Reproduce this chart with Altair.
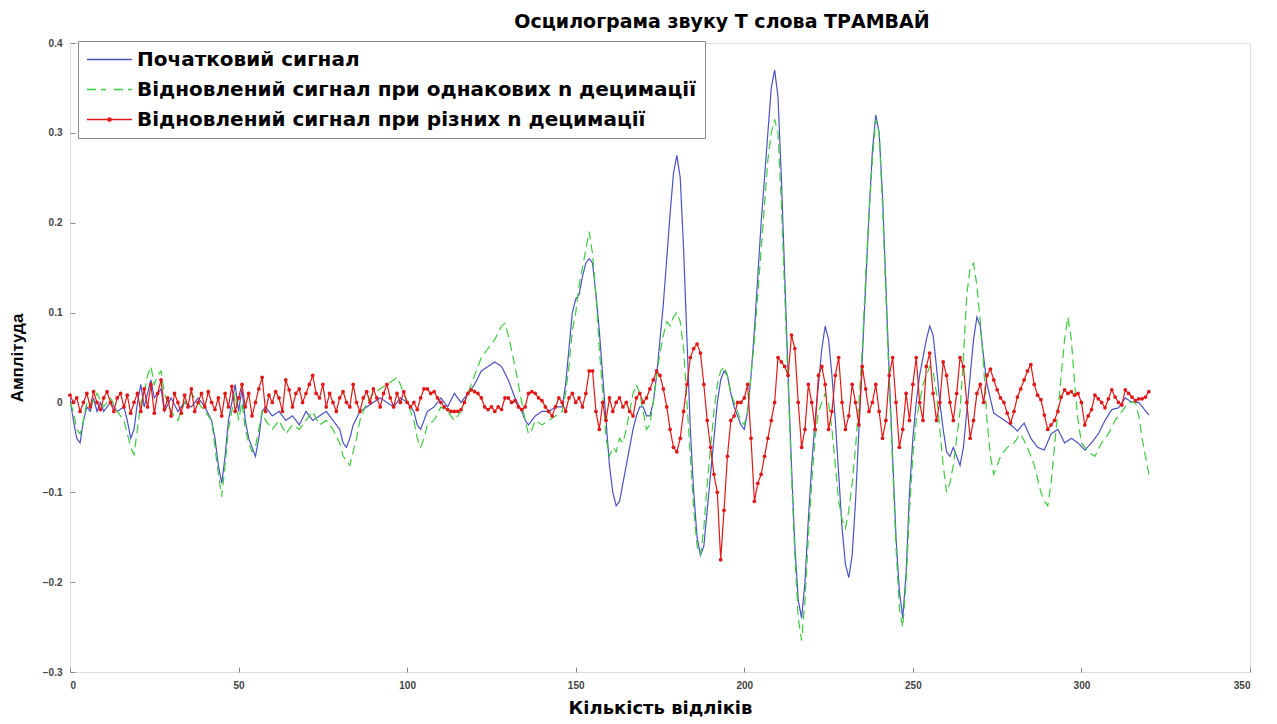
import altair as alt
import pandas as pd

names = ["Початковий сигнал",
         "Відновлений сигнал при однакових n децимації",
         "Відновлений сигнал при різних n децимації"]

blue_s = [0,1,2,3,4,5,6,7,8,9,10,12,14,16,17,18,19,20,21,22,23,24,25,27,28,30,32,34,36,38,40,42,43,44,45,46,47,48,49,50,51,52,53,54,55,56,57,58,60,62,64,66,68,70,72,74,76,78,80,81,82,83,84,86,88,90,92,94,96,98,100,102,103,104,105,106,108,110,112,114,116,118,120,122,124,126,128,130,132,134,135,136,138,140,142,144,146,147,148,149,150,151,152,153,154,155,156,157,158,159,160,161,162,163,164,165,166,167,168,169,170,171,172,173,174,175,176,177,178,179,180,181,182,183,184,185,186,187,188,189,190,191,192,193,194,195,196,197,198,199,200,201,202,203,204,205,206,207,208,209,210,211,212,213,214,215,216,217,218,219,220,221,222,223,224,225,226,227,228,229,230,231,232,233,234,235,236,237,238,239,240,241,242,243,244,245,246,247,248,249,250,251,252,253,254,255,256,257,258,259,260,261,262,263,264,265,266,267,268,269,270,271,272,274,276,278,280,281,283,285,287,289,291,293,295,297,299,301,303,305,307,309,311,313,315,317,320]
blue_v = [0.005,-0.02,-0.04,-0.045,-0.02,-0.005,-0.01,0.005,-0.01,0.0,-0.01,0.0,-0.01,-0.005,-0.02,-0.04,-0.03,0.0,0.02,-0.005,0.01,0.025,0.005,0.015,-0.01,0.005,-0.01,0.0,-0.005,0.005,-0.005,-0.02,-0.04,-0.07,-0.09,-0.06,-0.02,0.0,0.02,-0.01,0.015,-0.02,-0.04,-0.05,-0.06,-0.04,-0.01,-0.005,-0.015,-0.01,-0.02,-0.015,-0.025,-0.01,-0.02,-0.015,-0.01,-0.02,-0.03,-0.045,-0.05,-0.04,-0.025,-0.01,-0.005,0.0,0.005,0.0,-0.005,0.005,0.0,-0.01,-0.025,-0.03,-0.02,-0.01,-0.005,0.005,-0.005,0.01,0.0,0.01,0.02,0.035,0.04,0.045,0.04,0.025,0.005,-0.01,-0.02,-0.025,-0.015,-0.01,-0.01,-0.005,-0.005,0.02,0.06,0.1,0.115,0.12,0.14,0.155,0.16,0.155,0.12,0.08,0.03,-0.02,-0.07,-0.1,-0.115,-0.11,-0.09,-0.07,-0.05,-0.03,-0.015,-0.005,-0.005,-0.015,-0.015,0.0,0.03,0.07,0.11,0.16,0.21,0.255,0.275,0.25,0.17,0.07,-0.03,-0.1,-0.15,-0.17,-0.16,-0.12,-0.08,-0.04,0.0,0.025,0.035,0.03,0.01,-0.005,-0.015,-0.025,-0.03,-0.01,0.03,0.08,0.14,0.2,0.25,0.3,0.35,0.37,0.34,0.25,0.14,0.03,-0.07,-0.16,-0.22,-0.24,-0.2,-0.13,-0.07,-0.02,0.02,0.06,0.085,0.07,0.03,-0.02,-0.08,-0.14,-0.18,-0.195,-0.17,-0.11,-0.03,0.05,0.13,0.21,0.28,0.32,0.3,0.23,0.13,0.03,-0.06,-0.15,-0.21,-0.24,-0.19,-0.1,-0.04,0.0,0.03,0.05,0.07,0.085,0.075,0.04,0.0,-0.03,-0.055,-0.06,-0.05,-0.06,-0.07,-0.05,-0.01,0.03,0.07,0.095,0.085,0.05,0.02,-0.012,-0.017,-0.022,-0.028,-0.032,-0.023,-0.04,-0.05,-0.053,-0.035,-0.03,-0.045,-0.04,-0.045,-0.053,-0.045,-0.035,-0.02,-0.008,-0.006,0.005,0.0,0.0,-0.014]

green_s = [0,1,2,3,4,5,6,8,10,12,14,16,17,18,19,20,21,22,23,24,25,26,27,28,30,32,34,36,38,40,42,43,44,45,46,47,48,49,50,51,52,53,54,55,56,57,58,60,62,64,66,68,70,72,74,76,78,80,81,82,83,84,85,86,88,90,92,94,96,97,98,100,102,103,104,105,106,108,110,112,114,116,118,120,122,124,126,128,129,130,132,134,135,136,137,138,140,142,144,146,147,148,149,150,151,152,153,154,155,156,157,158,159,160,161,162,163,164,165,166,167,168,169,170,171,172,173,174,175,176,177,178,179,180,181,182,183,184,185,186,187,188,189,190,191,192,193,194,195,196,197,198,199,200,201,202,203,204,205,206,207,208,209,210,211,212,213,214,215,216,217,218,219,220,221,222,223,224,225,226,227,228,229,230,231,232,233,234,235,236,237,238,239,240,241,242,243,244,245,246,247,248,249,250,251,252,253,254,255,256,257,258,259,260,261,262,263,264,265,266,267,268,269,270,271,272,273,274,275,276,278,280,282,284,286,288,289,290,291,292,293,294,295,296,297,298,299,300,302,304,306,308,310,312,314,316,317,318,319,320]
green_v = [0.0,-0.01,-0.03,-0.035,-0.02,0.0,-0.005,0.01,-0.005,0.005,-0.01,-0.02,-0.035,-0.05,-0.058,-0.03,0.0,0.01,0.03,0.04,0.02,0.03,0.035,0.01,-0.01,-0.02,0.0,0.01,0.0,-0.01,-0.02,-0.05,-0.08,-0.105,-0.07,-0.03,-0.01,0.01,-0.02,0.0,-0.03,-0.045,-0.055,-0.05,-0.03,-0.01,-0.02,-0.03,-0.02,-0.035,-0.025,-0.03,-0.02,-0.01,-0.025,-0.02,-0.03,-0.045,-0.06,-0.065,-0.07,-0.055,-0.04,-0.02,0.0,0.01,0.015,0.02,0.025,0.028,0.02,0.0,-0.02,-0.04,-0.05,-0.04,-0.025,-0.02,-0.005,-0.01,-0.02,-0.01,0.01,0.03,0.05,0.06,0.07,0.085,0.088,0.075,0.04,0.0,-0.02,-0.035,-0.03,-0.02,-0.025,-0.02,-0.015,-0.01,0.01,0.04,0.08,0.1,0.13,0.15,0.17,0.19,0.165,0.12,0.06,0.01,-0.04,-0.06,-0.05,-0.055,-0.04,-0.045,-0.03,-0.01,0.01,0.02,0.01,-0.01,-0.03,-0.025,0.0,0.03,0.055,0.075,0.09,0.085,0.095,0.1,0.09,0.06,0.0,-0.06,-0.12,-0.16,-0.17,-0.14,-0.09,-0.05,-0.01,0.02,0.035,0.04,0.03,0.01,0.0,-0.01,-0.02,-0.025,-0.01,0.03,0.07,0.12,0.17,0.22,0.27,0.3,0.315,0.3,0.22,0.12,0.02,-0.08,-0.17,-0.24,-0.265,-0.22,-0.15,-0.09,-0.04,-0.01,0.0,0.01,0.0,-0.03,-0.07,-0.11,-0.13,-0.14,-0.12,-0.09,-0.05,0.0,0.06,0.14,0.21,0.27,0.315,0.3,0.22,0.12,0.02,-0.07,-0.16,-0.23,-0.25,-0.2,-0.12,-0.06,-0.02,0.0,0.02,0.03,0.04,0.035,0.01,-0.03,-0.07,-0.1,-0.09,-0.07,-0.04,-0.01,0.05,0.12,0.15,0.155,0.13,0.09,0.04,-0.02,-0.06,-0.08,-0.07,-0.06,-0.05,-0.045,-0.035,-0.05,-0.07,-0.1,-0.11,-0.115,-0.09,-0.05,-0.01,0.03,0.07,0.095,0.07,0.02,-0.02,-0.045,-0.055,-0.06,-0.045,-0.035,-0.02,-0.01,0.0,0.0,-0.015,-0.04,-0.06,-0.08]

red_v = [0.008,0.0,0.005,-0.01,0.0,0.01,-0.005,0.012,0.0,-0.008,0.005,0.012,0.0,-0.01,0.005,0.01,-0.005,0.008,-0.012,0.0,
         0.01,-0.01,0.015,-0.005,0.02,-0.012,0.01,0.025,-0.008,0.005,-0.015,0.01,0.0,-0.012,0.008,-0.005,0.015,-0.01,0.0,0.01,
         -0.005,0.012,0.0,-0.008,0.005,-0.015,0.01,-0.005,0.018,-0.01,0.005,0.02,-0.005,0.01,-0.015,0.0,0.015,0.028,-0.01,0.008,
         0.0,0.012,0.005,-0.01,0.025,0.014,-0.005,0.01,0.015,0.0,0.01,0.02,0.03,0.01,0.005,0.02,-0.005,0.01,0.0,-0.01,
         0.005,0.012,0.0,-0.005,0.02,0.0,-0.01,0.005,0.012,0.0,0.015,0.005,-0.005,0.01,0.02,0.005,-0.005,0.01,0.0,0.012,
         0.0,-0.005,0.0,-0.008,0.005,0.015,0.015,0.01,0.012,0.005,0.0,-0.005,-0.008,-0.01,-0.01,-0.01,-0.008,0.0,0.01,0.014,
         0.012,0.01,0.005,-0.005,-0.008,-0.005,-0.01,-0.005,-0.008,0.005,0.005,0.0,0.002,-0.005,-0.008,-0.005,0.01,0.012,0.01,0.005,
         0.002,-0.005,-0.01,-0.015,-0.005,0.005,0.0,-0.01,0.005,0.01,0.0,0.005,-0.005,0.01,0.035,0.035,-0.01,-0.03,0.0,-0.02,
         0.005,-0.01,0.0,0.005,-0.005,0.0,-0.01,-0.015,0.005,0.01,0.0,0.005,0.015,0.025,0.035,0.03,0.015,-0.005,-0.03,-0.05,
         -0.055,-0.04,-0.01,0.02,0.05,0.06,0.065,0.055,0.02,-0.02,-0.05,-0.08,-0.1,-0.175,-0.12,-0.06,-0.02,-0.015,0.0,0.0,
         0.005,0.02,-0.04,-0.11,-0.09,-0.08,-0.06,-0.04,-0.02,0.0,0.05,0.045,0.04,0.03,0.075,0.06,0.0,-0.05,-0.03,0.02,
         0.0,-0.03,0.03,0.04,0.02,-0.03,-0.01,0.03,0.05,0.0,-0.03,-0.015,0.02,0.0,-0.025,0.04,0.015,-0.01,0.0,0.02,
         -0.01,-0.04,-0.02,0.03,0.05,0.0,-0.05,-0.03,0.01,-0.02,0.02,0.05,0.0,-0.02,0.04,0.055,0.01,-0.02,0.0,0.045,
         0.03,0.0,-0.02,0.01,0.05,0.04,0.0,-0.04,-0.02,0.01,0.02,0.0,0.03,0.037,0.025,0.014,0.005,0.0,-0.012,-0.023,
         -0.01,0.006,0.015,0.025,0.035,0.042,0.02,0.008,0.003,-0.014,-0.03,-0.025,-0.02,-0.01,0.006,0.014,0.01,0.012,0.008,0.01,
         0.0,-0.025,-0.015,-0.008,0.008,0.004,0.0,-0.006,0.004,0.014,0.006,0.0,-0.003,0.014,0.01,0.006,0.002,0.004,0.004,0.006,
         0.012]
red_s = list(range(len(red_v)))

colors = ["#4a52c4", "#3ccc3c", "#e01818"]
x_ticks = [0, 50, 100, 150, 200, 250, 300, 350]
y_ticks = [-0.3, -0.2, -0.1, 0, 0.1, 0.2, 0.3, 0.4]

# legend symbols: solid line, dashed line, line with a dot
legend_shapes = ["M-1,0H1",
                 "M-1,0H-0.15M0.2,0H1",
                 "M-1,0H1M0.07,0A0.07,0.07 0 1,1 -0.07,0A0.07,0.07 0 1,1 0.07,0"]

df = pd.concat([
    pd.DataFrame({"s": blue_s, "v": blue_v, "series": names[0], "o": 0}),
    pd.DataFrame({"s": green_s, "v": green_v, "series": names[1], "o": 1}),
    pd.DataFrame({"s": red_s, "v": red_v, "series": names[2], "o": 2}),
], ignore_index=True)

FONT = "Liberation Sans"
WFONT = "DejaVu Sans"
FRAME = "#8a8a8a"

xs = alt.Scale(domain=[0, 350], nice=False, zero=False)
ys = alt.Scale(domain=[-0.3, 0.4], nice=False, zero=False)
cs = alt.Scale(domain=names, range=colors)

xax = alt.Axis(values=x_ticks, format="d", title="Кількість відліків", grid=False, domain=False,
               offset=-5, tickSize=5, tickColor=FRAME, labelPadding=8, labelFontSize=10,
               labelFont=FONT, labelFontWeight="bold", titleFont=WFONT, titleFontSize=18,
               titleFontWeight="bold", titlePadding=9, labelColor="#444", titleColor="#000")
yax = alt.Axis(values=y_ticks, title="Амплітуда", grid=False, domain=False,
               offset=-5, tickSize=5, tickColor=FRAME, labelPadding=8, labelFontSize=10,
               labelFont=FONT, labelFontWeight="bold", titleFont=FONT, titleFontSize=17,
               titleFontWeight="bold", titlePadding=6, labelColor="#444", titleColor="#000",
               minExtent=43, maxExtent=43,
               labelExpr="datum.value == 0 ? '0' : format(datum.value, '.1f')")

leg = alt.Legend(title=None, orient="none", legendX=8, legendY=-2,
                 symbolSize=2025, symbolStrokeWidth=1.5, clipHeight=21,
                 labelFont=WFONT, labelFontSize=20, labelFontWeight="bold",
                 labelColor="#000", labelLimit=900, rowPadding=9,
                 strokeColor=FRAME, fillColor="white", padding=8,
                 labelOffset=4, symbolOpacity=1)

lines = alt.Chart(df).mark_line(strokeWidth=1.2, clip=True).encode(
    x=alt.X("s:Q", scale=xs, axis=xax),
    y=alt.Y("v:Q", scale=ys, axis=yax),
    color=alt.Color("series:N", scale=cs, sort=names, legend=leg),
    strokeDash=alt.StrokeDash("series:N", scale=alt.Scale(domain=names, range=[[1, 0], [9, 5], [1, 0]]),
                              sort=names, legend=None),
    order="o:Q",
    detail="series:N",
)

pts = alt.Chart(df[df["series"] == names[2]]).mark_circle(size=14, color=colors[2], opacity=1).encode(
    x=alt.X("s:Q", scale=xs),
    y=alt.Y("v:Q", scale=ys),
)

legend_layer = alt.Chart(df).transform_filter("false").mark_point(filled=False, strokeWidth=1.5).encode(
    x=alt.X("s:Q", scale=xs),
    y=alt.Y("v:Q", scale=ys),
    color=alt.Color("series:N", scale=cs, sort=names, legend=leg),
    shape=alt.Shape("series:N", scale=alt.Scale(domain=names, range=legend_shapes), sort=names, legend=leg),
)

chart = (lines + pts + legend_layer).properties(
    width=1180, height=629,
    padding={"left": 0, "top": 5, "right": 5, "bottom": 5},
    title=alt.TitleParams("Осцилограма звуку Т слова ТРАМВАЙ", font=WFONT, fontSize=19,
                          fontWeight="bold", anchor="middle", dx=62, offset=6, color="#000"),
).configure_view(stroke=FRAME, strokeWidth=1.5).configure(background="white")

chart.save("out.html", embed_options={"renderer": "svg", "actions": False})
